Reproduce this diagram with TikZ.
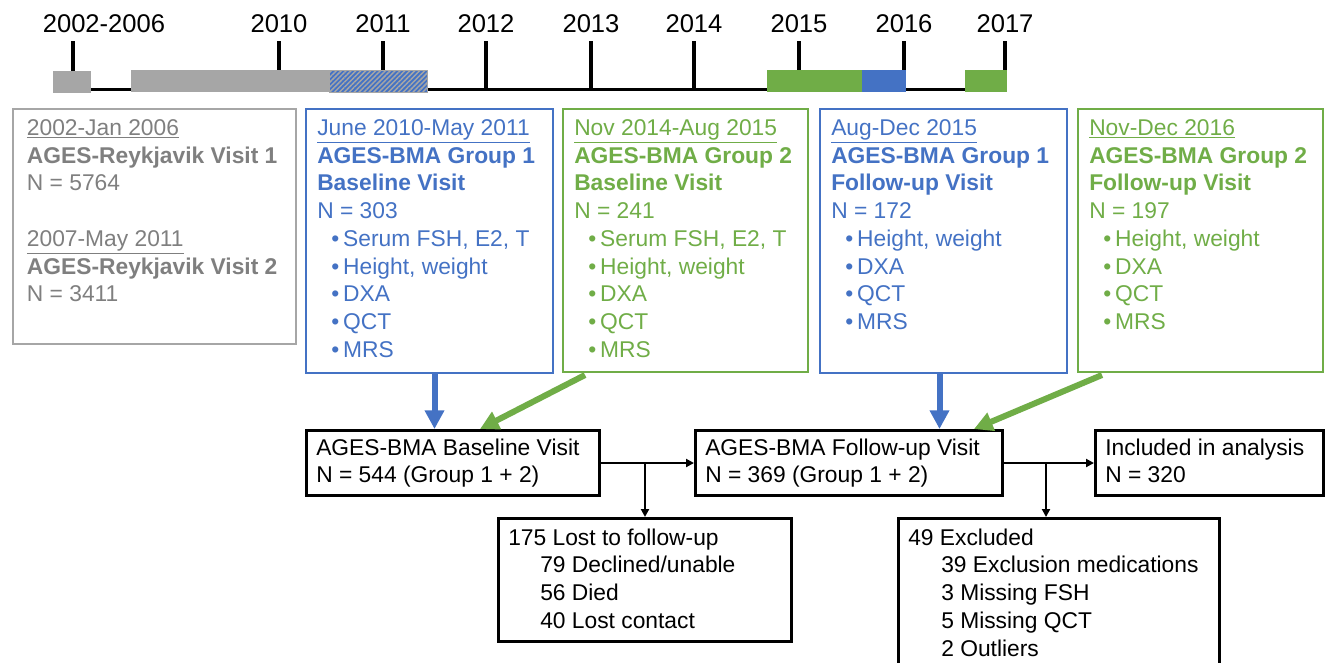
\documentclass[tikz,border=0pt]{standalone}
\usepackage{fontspec}
\setmainfont{Liberation Sans}
\usetikzlibrary{calc}
\usetikzlibrary{arrows.meta}
\usetikzlibrary{patterns.meta}

\definecolor{agesblue}{HTML}{4472C4}
\definecolor{agesgreen}{HTML}{70AD47}
\definecolor{agesgray}{HTML}{A6A6A6}
\definecolor{agestext}{HTML}{7F7F7F}

\newcommand{\boxfont}{\fontsize{17.1}{20.8}\selectfont}
\newcommand{\yearfont}{\fontsize{19.2}{23}\selectfont}
\newcommand{\itm}{\hspace*{10.5pt}\textbullet\hspace{3pt}}

\begin{document}
\begin{tikzpicture}[x=0.75pt,y=-0.75pt,
  visitframe/.style 2 args={draw,rectangle,anchor=north west,inner sep=0pt,
    minimum width=#1*0.75pt,minimum height=#2*0.75pt},
  graybox/.style 2 args={visitframe={#1}{#2},draw=agesgray,line width=1.5pt},
  bluebox/.style 2 args={visitframe={#1}{#2},draw=agesblue,line width=1.5pt},
  greenbox/.style 2 args={visitframe={#1}{#2},draw=agesgreen,line width=1.5pt},
  blackbox/.style 2 args={visitframe={#1}{#2},draw=black,line width=2.25pt},
  boxtext/.style={anchor=north west,align=left,inner xsep=9pt,inner ysep=8.5pt,font=\boxfont},
  flowtext/.style={boxtext,inner xsep=8.25pt,inner ysep=7pt},
  yearlabel/.style={inner sep=0pt,font=\yearfont},
  tickline/.style={line width=2.5pt},
  bigarrow/.style={line width=4.5pt,-{Triangle[length=14pt,width=14pt]}},
  smallarrow/.style={line width=1.5pt,-{Triangle[length=6pt,width=6pt]}}]
  % Constants
  \pgfmathsetmacro\lineY{89.5}
  \pgfmathsetmacro\tickTop{41}
  \pgfmathsetmacro\barTop{70}
  \pgfmathsetmacro\barBot{92}
  % Boundary
  \path[use as bounding box] (0,0) rectangle (1325,662);
  % Timeline
  \draw[tickline] (73,\lineY) -- (1005,\lineY);
  \foreach \tx/\lx/\yr in {73/104/2002-2006,279/279/2010,383/383/2011,486/486/2012,
    591/591/2013,694/694/2014,799/799/2015,904/904/2016,1005/1005/2017}{
    \draw[tickline] (\tx,\tickTop) -- (\tx,\lineY);
    \node[yearlabel] (year\tx) at (\lx,24) {\yr};
  }
  % Study periods
  \fill[agesgray] (53,\barTop+1) rectangle (91,\barBot+1);
  \fill[agesgray] (131,\barTop) rectangle (329,\barBot);
  \fill[agesblue] (329,\barTop) rectangle (427,\barBot);
  \draw[agesgray,line width=0.75pt,pattern={Lines[angle=45,distance=2.6pt,line width=1.1pt]},
    pattern color=agesgray] (329,\barTop) rectangle (427,\barBot);
  \fill[agesgreen] (767,\barTop) rectangle (862,\barBot);
  \fill[agesblue] (862,\barTop) rectangle (906,\barBot);
  \fill[agesgreen] (965,\barTop) rectangle (1007,\barBot);
  % Visit boxes
  \node[graybox={283}{235}] (reyk) at (12,108) {};
  \node[boxtext,text=agestext,inner xsep=11pt] (reyktxt) at (reyk.north west) {%
    \underline{2002-Jan 2006}\\
    \textbf{AGES-Reykjavik Visit 1}\\
    N = 5764\\[20.8pt]
    \underline{2007-May 2011}\\
    \textbf{AGES-Reykjavik Visit 2}\\
    N = 3411};
  \node[bluebox={247}{264}] (blue1) at (305,108) {};
  \node[boxtext,text=agesblue] (blue1txt) at (blue1.north west) {%
    \underline{June 2010-May 2011}\\
    \textbf{AGES-BMA Group 1}\\
    \textbf{Baseline Visit}\\
    N = 303\\
    \itm Serum FSH, E2, T\\
    \itm Height, weight\\
    \itm DXA\\
    \itm QCT\\
    \itm MRS};
  \node[greenbox={245}{263}] (green1) at (562,108) {};
  \node[boxtext,text=agesgreen] (green1txt) at (green1.north west) {%
    \underline{Nov 2014-Aug 2015}\\
    \textbf{AGES-BMA Group 2}\\
    \textbf{Baseline Visit}\\
    N = 241\\
    \itm Serum FSH, E2, T\\
    \itm Height, weight\\
    \itm DXA\\
    \itm QCT\\
    \itm MRS};
  \node[bluebox={247}{264}] (blue2) at (819,108) {};
  \node[boxtext,text=agesblue] (blue2txt) at (blue2.north west) {%
    \underline{Aug-Dec 2015}\\
    \textbf{AGES-BMA Group 1}\\
    \textbf{Follow-up Visit}\\
    N = 172\\
    \itm Height, weight\\
    \itm DXA\\
    \itm QCT\\
    \itm MRS};
  \node[greenbox={245}{263}] (green2) at (1077,108) {};
  \node[boxtext,text=agesgreen] (green2txt) at (green2.north west) {%
    \underline{Nov-Dec 2016}\\
    \textbf{AGES-BMA Group 2}\\
    \textbf{Follow-up Visit}\\
    N = 197\\
    \itm Height, weight\\
    \itm DXA\\
    \itm QCT\\
    \itm MRS};
  % Flow boxes
  \node[blackbox={293}{65}] (base) at (305,429) {};
  \node[flowtext] (basetxt) at (base.north west) {AGES-BMA Baseline Visit\\N = 544 (Group 1 + 2)};
  \node[blackbox={307}{65}] (follow) at (694,429) {};
  \node[flowtext] (followtxt) at (follow.north west) {AGES-BMA Follow-up Visit\\N = 369 (Group 1 + 2)};
  \node[blackbox={228}{65}] (incl) at (1094,429) {};
  \node[flowtext] (incltxt) at (incl.north west) {Included in analysis\\N = 320};
  \node[blackbox={293}{123}] (lost) at (497,517) {};
  \node[flowtext,inner ysep=8.5pt] (losttxt) at (lost.north west) {%
    175 Lost to follow-up\\
    \hspace*{24pt}79 Declined/unable\\
    \hspace*{24pt}56 Died\\
    \hspace*{24pt}40 Lost contact};
  \node[blackbox={321}{160}] (excl) at (897,517) {};
  \node[flowtext,inner ysep=8.5pt] (excltxt) at (excl.north west) {%
    49 Excluded\\
    \hspace*{24.75pt}39 Exclusion medications\\
    \hspace*{24.75pt}3 Missing FSH\\
    \hspace*{24.75pt}5 Missing QCT\\
    \hspace*{24.75pt}2 Outliers};
  % Visits into flow
  \coordinate (b1out) at ($(blue1.south)+(5,0)$);
  \draw[bigarrow,agesblue] (b1out) -- (b1out |- base.north);
  \draw[bigarrow,agesgreen] ($(green1.south west)+(23,2)$) -- ($(base.north)+(27,0)$);
  \coordinate (b2out) at ($(blue2.south)+(-4,0)$);
  \draw[bigarrow,agesblue] (b2out) -- (b2out |- follow.north);
  \draw[bigarrow,agesgreen] ($(green2.south west)+(25,2)$) -- ($(follow.north)+(125,0)$);
  % Flow connectors
  \draw[smallarrow] (base.east) -- (follow.west);
  \draw[smallarrow] (lost.north |- base.east) -- (lost.north);
  \draw[smallarrow] (follow.east) -- (incl.west);
  \coordinate (split) at ($(follow.east)+(42,0)$);
  \draw[smallarrow] (split) -- (split |- excl.north);
\end{tikzpicture}
\end{document}
